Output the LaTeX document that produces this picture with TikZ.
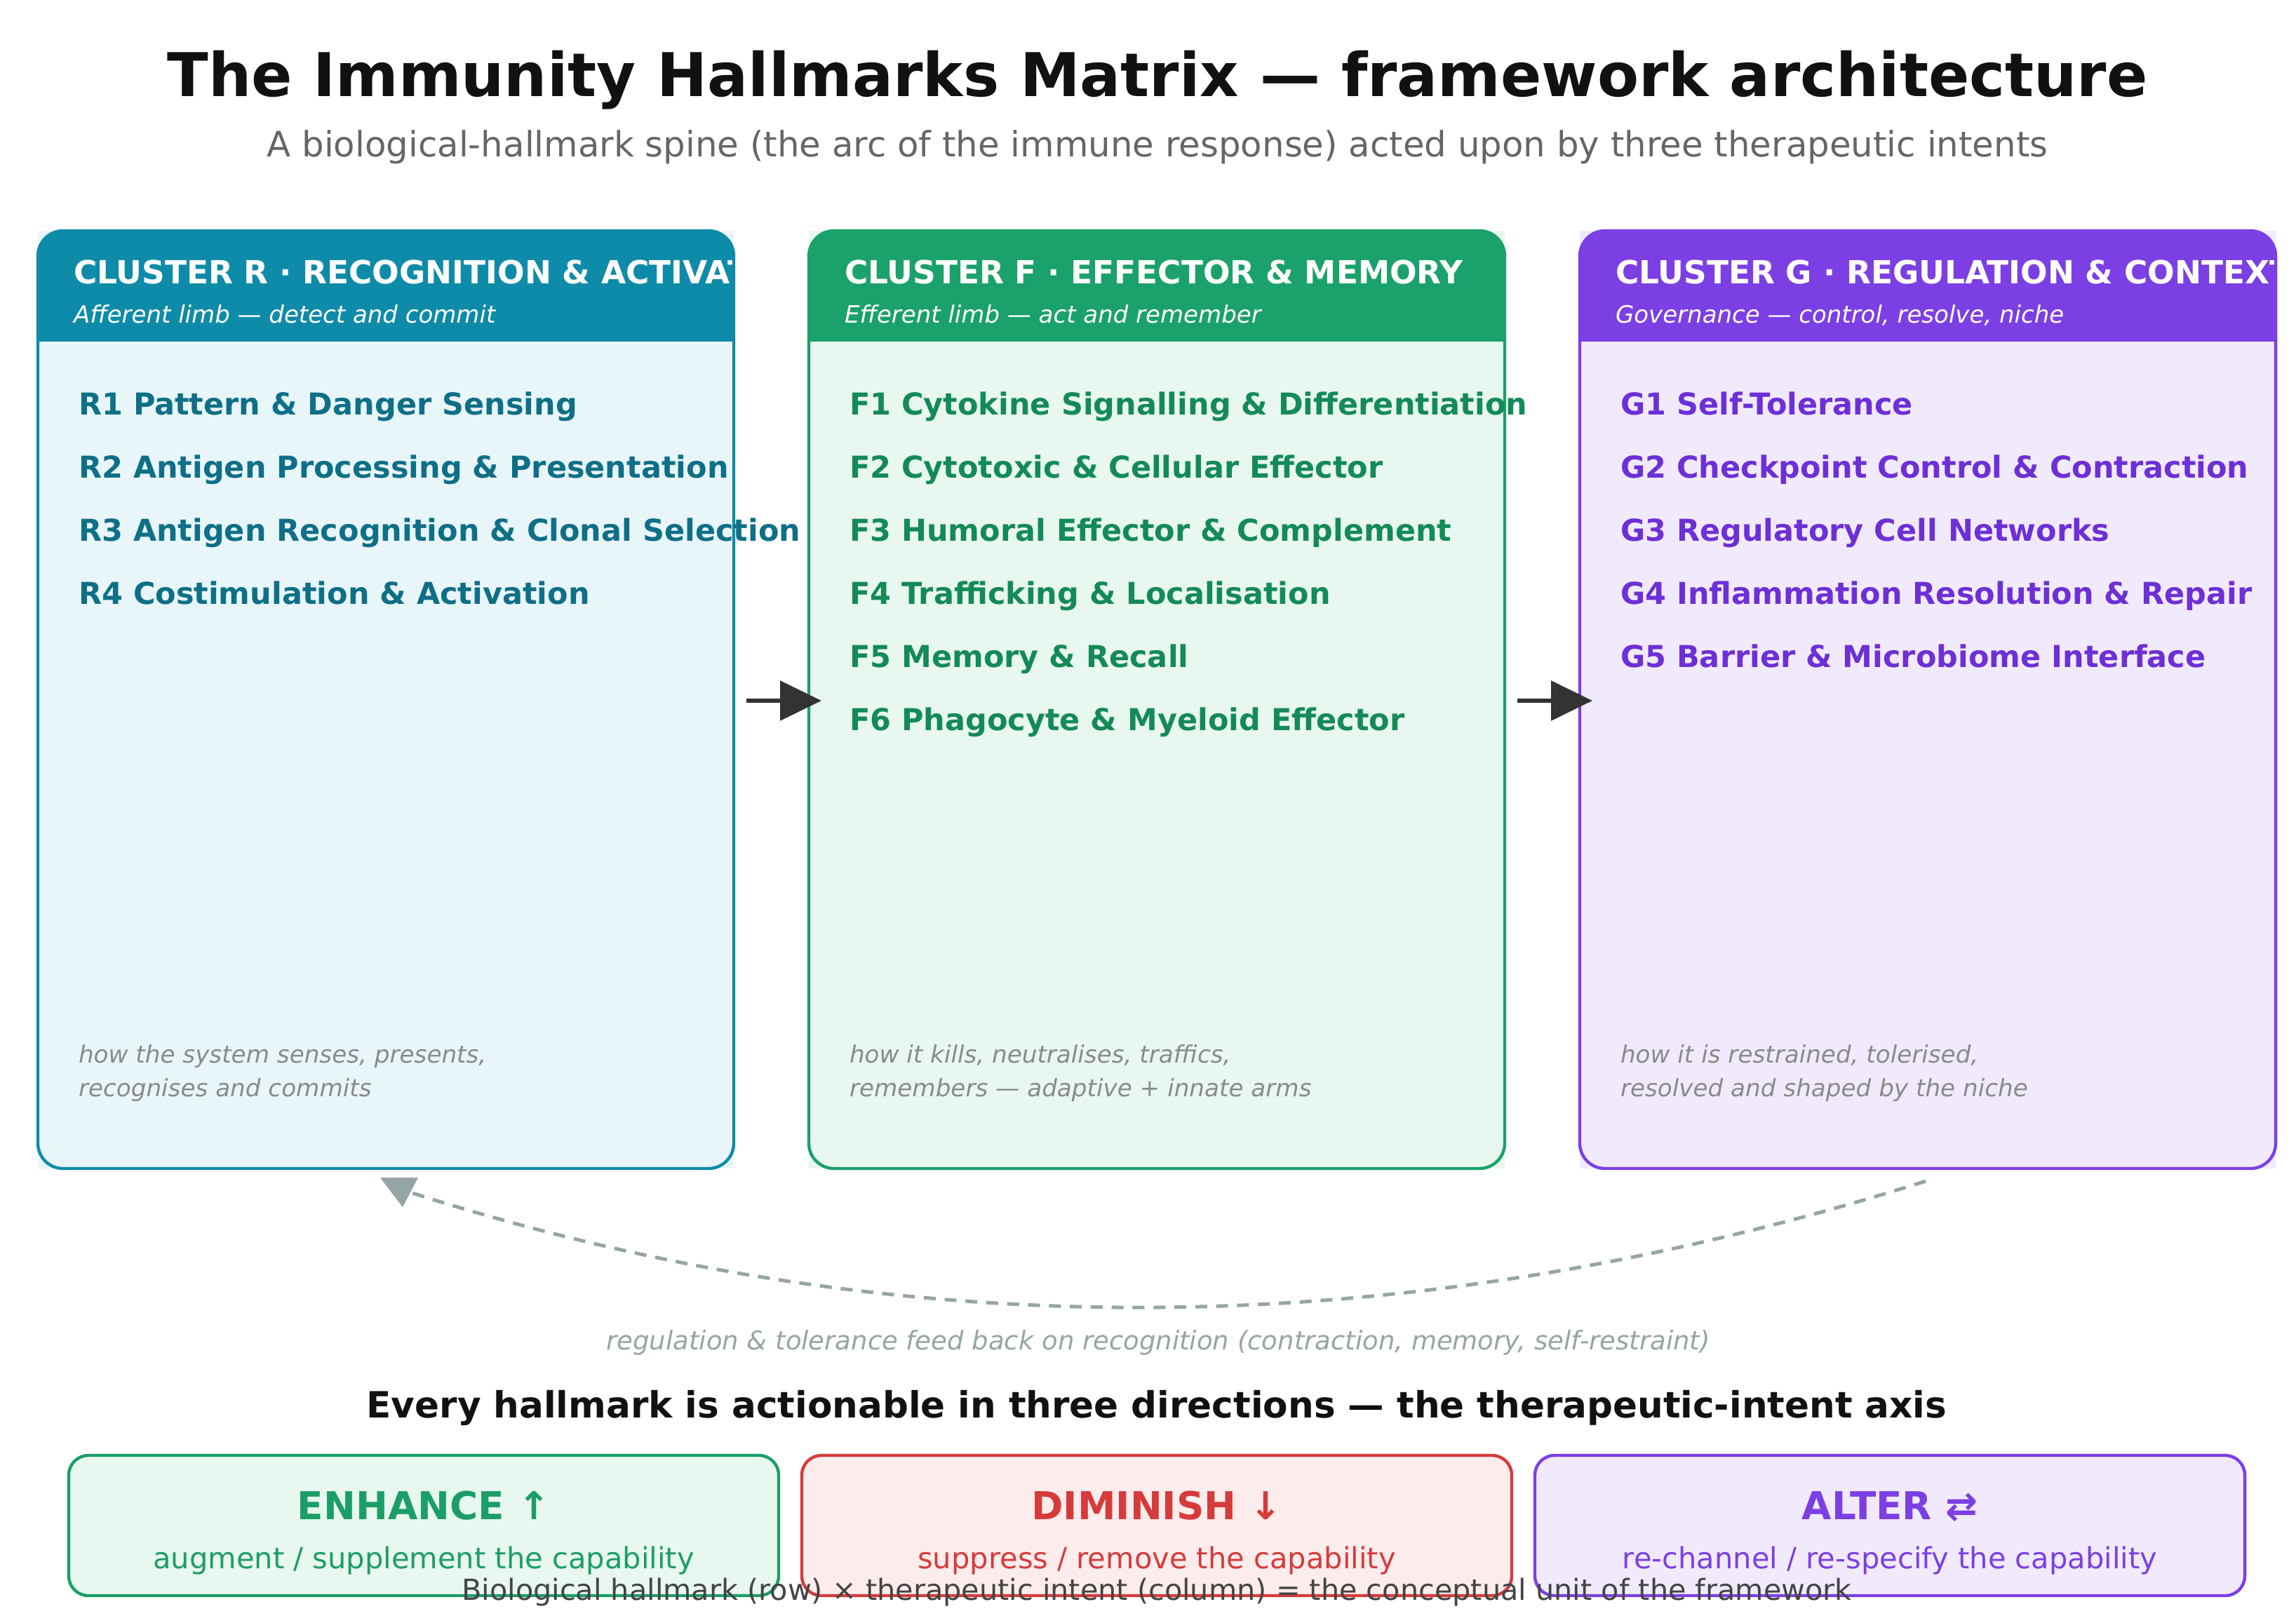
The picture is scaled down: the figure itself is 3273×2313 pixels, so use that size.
\documentclass[tikz,border=0pt]{standalone}
\usepackage{fontspec}
\setmainfont{DejaVu Sans}[BoldFont={DejaVu Sans Bold},ItalicFont={DejaVu Sans Oblique},BoldItalicFont={DejaVu Sans Bold Oblique}]
\usetikzlibrary{arrows.meta,calc}
\definecolor{titlec}{HTML}{111111}
\definecolor{subc}{HTML}{666666}
\definecolor{footc}{HTML}{444444}
\definecolor{notec}{HTML}{8A8A8A}
\definecolor{fbc}{HTML}{95A5A6}
\definecolor{arrowc}{HTML}{333333}
\definecolor{Rhdr}{HTML}{0E8BA8}
\definecolor{Rfill}{HTML}{E8F6FA}
\definecolor{Ritem}{HTML}{0E6F87}
\definecolor{Fhdr}{HTML}{1BA16B}
\definecolor{Ffill}{HTML}{E8F7EF}
\definecolor{Fitem}{HTML}{138A58}
\definecolor{Ghdr}{HTML}{7C3FE4}
\definecolor{Gfill}{HTML}{F1EAFC}
\definecolor{Gitem}{HTML}{6D2FD6}
\definecolor{Ec}{HTML}{1B9E68}
\definecolor{Efill}{HTML}{E8F7EF}
\definecolor{Dc}{HTML}{D63B3B}
\definecolor{Dfill}{HTML}{FDECEC}
\definecolor{Ac}{HTML}{7C3FE4}
\definecolor{Afill}{HTML}{F1EAFC}
\tikzset{
  lbl/.style={inner sep=0pt, outer sep=0pt, anchor=base west},
  ctr/.style={inner sep=0pt, outer sep=0pt, anchor=base},
  cbox/.style={rectangle, inner sep=0pt, outer sep=0pt, minimum width=248pt, minimum height=334.25pt},
  cborder/.style={line width=1.1pt, rounded corners=9pt},
  htitle/.style={lbl, text=white, font=\fontsize{11.35}{13}\selectfont\bfseries},
  hsub/.style={lbl, text=white, font=\fontsize{8.5}{10}\selectfont\itshape},
  item/.style={lbl, font=\fontsize{10.75}{13}\selectfont\bfseries},
  note/.style={lbl, text=notec, font=\fontsize{8.55}{10}\selectfont\itshape},
  flow/.style={draw=arrowc, line width=1.5pt, -{Triangle[length=14.75pt,width=14pt]}},
  fb/.style={draw=fbc, line width=1.25pt, dash pattern=on 4.25pt off 3.2pt},
  ibox/.style={rectangle, rounded corners=7pt, line width=1.1pt, inner sep=0pt, outer sep=0pt, minimum width=253pt, minimum height=50pt},
  ititle/.style={ctr, font=\fontsize{13.7}{16}\selectfont\bfseries},
  isub/.style={ctr, font=\fontsize{10.4}{12}\selectfont},
}
\begin{document}
\begin{tikzpicture}[x=0.25pt,y=-0.25pt]
\fill[white] (0,0) rectangle (3273,2313);
\useasboundingbox (0,0) rectangle (3273,2313);

% titles
\node[ctr, text=titlec, font=\fontsize{21.5}{26}\selectfont\bfseries] (title) at (1650,137.6) {The Immunity Hallmarks Matrix — framework architecture};
\node[ctr, text=subc, font=\fontsize{12.45}{14}\selectfont] (subtitle) at (1650,223) {A biological-hallmark spine (the arc of the immune response) acted upon by three therapeutic intents};

% ---------- Cluster R ----------
\node[cbox, fill=Rfill] (R) at (550,997.5) {};
\begin{scope}
  \clip[rounded corners=9pt] (R.north west) rectangle (R.south east);
  \fill[Rhdr] (R.north west) rectangle ($(R.north east)+(0,158)$);
  \node[htitle] (Rt) at ($(R.north west)+(51,75)$) {CLUSTER R · RECOGNITION \& ACTIVATION};
  \node[hsub] (Rs) at ($(R.north west)+(51,131)$) {Afferent limb — detect and commit};
\end{scope}
\draw[cborder, draw=Rhdr] (R.north west) rectangle (R.south east);
\node[item, text=Ritem] (R1) at ($(R.north west)+(58,262)$) {R1 Pattern \& Danger Sensing};
\node[item, text=Ritem] (R2) at ($(R.north west)+(58,352)$) {R2 Antigen Processing \& Presentation};
\node[item, text=Ritem] (R3) at ($(R.north west)+(58,442)$) {R3 Antigen Recognition \& Clonal Selection};
\node[item, text=Ritem] (R4) at ($(R.north west)+(58,532)$) {R4 Costimulation \& Activation};
\node[note] (Rn1) at ($(R.north west)+(58,1186)$) {how the system senses, presents,};
\node[note] (Rn2) at ($(R.north west)+(58,1234)$) {recognises and commits};

% ---------- Cluster F ----------
\node[cbox, fill=Ffill] (F) at (1649,997.5) {};
\begin{scope}
  \clip[rounded corners=9pt] (F.north west) rectangle (F.south east);
  \fill[Fhdr] (F.north west) rectangle ($(F.north east)+(0,158)$);
  \node[htitle] (Ft) at ($(F.north west)+(51,75)$) {CLUSTER F · EFFECTOR \& MEMORY};
  \node[hsub] (Fs) at ($(F.north west)+(51,131)$) {Efferent limb — act and remember};
\end{scope}
\draw[cborder, draw=Fhdr] (F.north west) rectangle (F.south east);
\node[item, text=Fitem] (F1) at ($(F.north west)+(58,262)$) {F1 Cytokine Signalling \& Differentiation};
\node[item, text=Fitem] (F2) at ($(F.north west)+(58,352)$) {F2 Cytotoxic \& Cellular Effector};
\node[item, text=Fitem] (F3) at ($(F.north west)+(58,442)$) {F3 Humoral Effector \& Complement};
\node[item, text=Fitem] (F4) at ($(F.north west)+(58,532)$) {F4 Trafficking \& Localisation};
\node[item, text=Fitem] (F5) at ($(F.north west)+(58,622)$) {F5 Memory \& Recall};
\node[item, text=Fitem] (F6) at ($(F.north west)+(58,712)$) {F6 Phagocyte \& Myeloid Effector};
\node[note] (Fn1) at ($(F.north west)+(58,1186)$) {how it kills, neutralises, traffics,};
\node[note] (Fn2) at ($(F.north west)+(58,1234)$) {remembers — adaptive + innate arms};

% ---------- Cluster G ----------
\node[cbox, fill=Gfill] (G) at (2748,997.5) {};
\begin{scope}
  \clip[rounded corners=9pt] (G.north west) rectangle (G.south east);
  \fill[Ghdr] (G.north west) rectangle ($(G.north east)+(0,158)$);
  \node[htitle] (Gt) at ($(G.north west)+(51,75)$) {CLUSTER G · REGULATION \& CONTEXT};
  \node[hsub] (Gs) at ($(G.north west)+(51,131)$) {Governance — control, resolve, niche};
\end{scope}
\draw[cborder, draw=Ghdr] (G.north west) rectangle (G.south east);
\node[item, text=Gitem] (G1) at ($(G.north west)+(58,262)$) {G1 Self-Tolerance};
\node[item, text=Gitem] (G2) at ($(G.north west)+(58,352)$) {G2 Checkpoint Control \& Contraction};
\node[item, text=Gitem] (G3) at ($(G.north west)+(58,442)$) {G3 Regulatory Cell Networks};
\node[item, text=Gitem] (G4) at ($(G.north west)+(58,532)$) {G4 Inflammation Resolution \& Repair};
\node[item, text=Gitem] (G5) at ($(G.north west)+(58,622)$) {G5 Barrier \& Microbiome Interface};
\node[note] (Gn1) at ($(G.north west)+(58,1186)$) {how it is restrained, tolerised,};
\node[note] (Gn2) at ($(G.north west)+(58,1234)$) {resolved and shaped by the niche};

% ---------- flow arrows ----------
\draw[flow] ($(R.east)+(18,1.5)$) -- ($(F.west)+(18,1.5)$);
\draw[flow] ($(F.east)+(18,1.5)$) -- ($(G.west)+(18,1.5)$);

% ---------- feedback ----------
\draw[fb] ($(G.south)+(-3,18)$) .. controls (2003,1918.7) and (1283,1924) .. ($(R.south)+(35,34)$);
\fill[fbc] ($(R.south)+(-8,13)$) -- ($(R.south)+(46,13)$) -- ($(R.south)+(24,55)$) -- cycle;
\node[ctr, text=fbc, font=\fontsize{9.25}{11}\selectfont\itshape] (fbl) at (1651,1924) {regulation \& tolerance feed back on recognition (contraction, memory, self-restraint)};

% ---------- intent axis ----------
\node[ctr, text=titlec, font=\fontsize{12.9}{15}\selectfont\bfseries] (axis) at (1649,2021) {Every hallmark is actionable in three directions — the therapeutic-intent axis};

\node[ibox, draw=Ec, fill=Efill] (E) at (604,2175) {};
\node[ititle, text=Ec] (Et) at ($(E.north)+(0,91)$) {ENHANCE ↑};
\node[isub, text=Ec] (Es) at ($(E.north)+(0,161)$) {augment / supplement the capability};

\node[ibox, draw=Dc, fill=Dfill] (D) at (1649,2175) {};
\node[ititle, text=Dc] (Dt) at ($(D.north)+(0,91)$) {DIMINISH ↓};
\node[isub, text=Dc] (Ds) at ($(D.north)+(0,161)$) {suppress / remove the capability};

\node[ibox, draw=Ac, fill=Afill] (A) at (2694,2175) {};
\node[ititle, text=Ac] (At) at ($(A.north)+(0,91)$) {ALTER ⇄};
\node[isub, text=Ac] (As) at ($(A.north)+(0,161)$) {re-channel / re-specify the capability};

\node[ctr, text=footc, font=\fontsize{10.35}{12}\selectfont] (foot) at (1649,2281) {Biological hallmark (row) × therapeutic intent (column) = the conceptual unit of the framework};
\end{tikzpicture}
\end{document}
